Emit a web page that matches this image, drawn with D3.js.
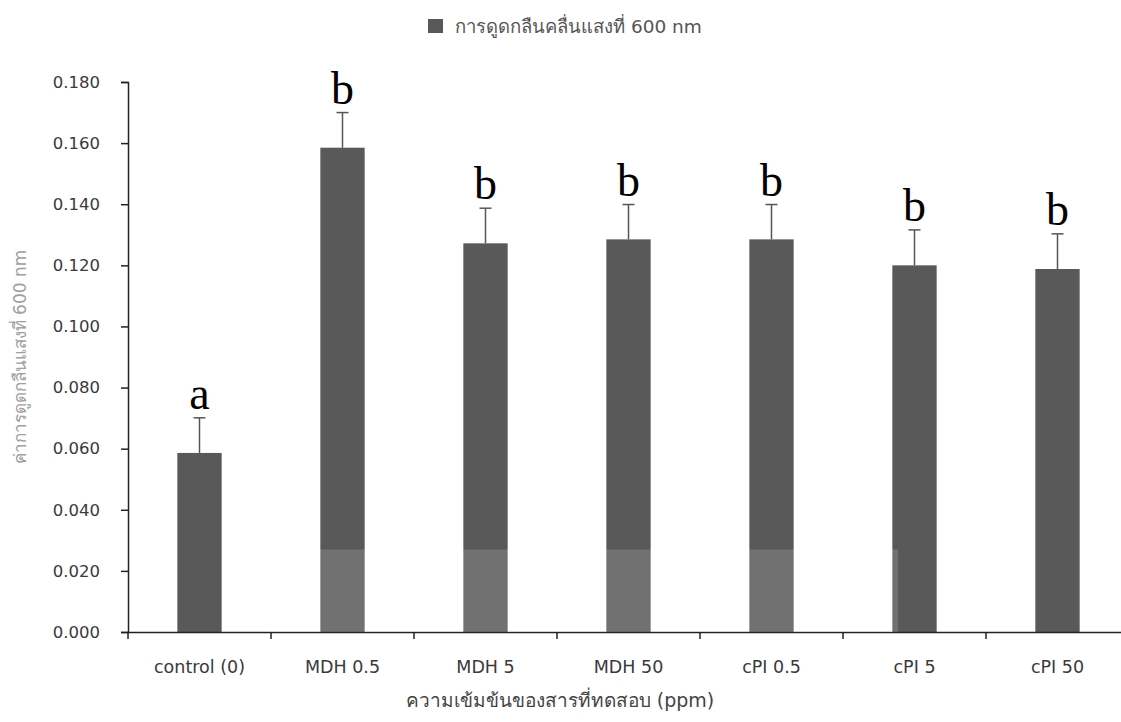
<!DOCTYPE html>
<html><head><meta charset="utf-8">
<script src="https://cdn.jsdelivr.net/npm/d3@7"></script>
<style>
body{margin:0;background:#fff;}
text{font-family:"DejaVu Sans","Noto Sans",sans-serif;}
</style></head>
<body><svg id="c" width="1121" height="722"></svg>
<script>
const categories = ["control (0)","MDH 0.5","MDH 5","MDH 50","cPI 0.5","cPI 5","cPI 50"];
const means = [0.0586,0.1585,0.1272,0.1285,0.1285,0.1200,0.1188];
const errors = [0.0115,0.0115,0.0115,0.0114,0.0114,0.0116,0.0115];
const letters = ["a","b","b","b","b","b","b"];
const yTicks = [0,0.02,0.04,0.06,0.08,0.10,0.12,0.14,0.16,0.18];
const seriesName = "การดูดกลืนคลื่นแสงที่ 600 nm";
const yTitle = "ค่าการดูดกลืนแสงที่ 600 nm";
const xTitle = "ความเข้มข้นของสารที่ทดสอบ (ppm)";

const svg = d3.select("#c");
const W = 1121, H = 722;
const m = {l:128, r:W-1129, t:82, b:H-632};
const x = d3.scaleBand().domain(categories).range([m.l, W-m.r]).paddingInner(0.69).paddingOuter(0.345);
const xb = d3.scaleBand().domain(categories).range([m.l, W-m.r]);
const y = d3.scaleLinear().domain([0,0.18]).range([H-m.b, m.t]);
const barColor = "#595959";

// bars
svg.append("g").selectAll("rect").data(categories).join("rect")
  .attr("x", d=>x(d)).attr("width", x.bandwidth())
  .attr("y", (d,i)=>y(means[i])).attr("height", (d,i)=>y(0)-y(means[i]))
  .attr("fill", barColor);

// error bars and letters
const eg = svg.append("g").attr("stroke","#555").attr("stroke-width",1.5);
categories.forEach((c,i)=>{
  const cx = x(c)+x.bandwidth()/2;
  const top = y(means[i]+errors[i]);
  eg.append("line").attr("x1",cx).attr("x2",cx).attr("y1",y(means[i])).attr("y2",top);
  eg.append("line").attr("x1",cx-6).attr("x2",cx+6).attr("y1",top).attr("y2",top);
  svg.append("text").attr("x",cx).attr("y",top-9)
    .attr("text-anchor","middle").style("font-family","'Liberation Serif','DejaVu Serif',serif")
    .style("font-size","46px").attr("fill","#000").text(letters[i]);
});

// y axis
const ya = svg.append("g").attr("transform",`translate(${m.l},0)`)
  .call(d3.axisLeft(y).tickValues(yTicks).tickFormat(d3.format(".3f")).tickSize(7).tickPadding(21));
ya.select(".domain").attr("stroke","#222").attr("stroke-width",1.5);
ya.selectAll(".tick line").attr("stroke","#222").attr("stroke-width",1.5);
ya.selectAll(".tick text").style("font-size","16.5px").attr("fill","#3a3a3a");

// x axis
const xa = svg.append("g").attr("transform",`translate(0,${y(0)})`)
  .call(d3.axisBottom(xb).tickSize(0));
xa.select(".domain").attr("stroke","#222").attr("stroke-width",1.5);
xa.selectAll(".tick text").attr("y",41).attr("dy",0).style("font-size","17.5px").attr("fill","#3a3a3a");
xa.selectAll(".tick").append("line").attr("x1",xb.bandwidth()/2).attr("x2",xb.bandwidth()/2)
  .attr("y1",0).attr("y2",7).attr("stroke","#222").attr("stroke-width",1.5);
xa.append("line").attr("x1",m.l).attr("x2",m.l).attr("y1",0).attr("y2",7).attr("stroke","#222").attr("stroke-width",1.5);
xa.append("line").attr("x1",W-m.r).attr("x2",W).attr("y1",0).attr("y2",0).attr("stroke","#222").attr("stroke-width",1.5);

// watermark overlay (light band in the reference image)
svg.append("rect").attr("x",xb("MDH 0.5")).attr("width",xb("cPI 5")+xb.bandwidth()*0.385-xb("MDH 0.5"))
  .attr("y",y(0.027)).attr("height",y(0)-y(0.027)).attr("fill","#fff").attr("opacity",0.15);

// titles
svg.append("text").attr("x",560).attr("y",707).attr("text-anchor","middle")
  .style("font-size","19px").attr("fill","#444").text(xTitle);
svg.append("text").attr("transform",`translate(26,${(m.t+H-m.b)/2}) rotate(-90)`).attr("text-anchor","middle")
  .style("font-size","17px").attr("fill","#a0a0a0").text(yTitle);

// legend
const lg = svg.append("g").attr("transform","translate(428,19)");
lg.append("rect").attr("width",15).attr("height",14).attr("fill",barColor);
lg.append("text").attr("x",27).attr("y",14).style("font-size","18.5px").attr("fill","#555").text(seriesName);
</script></body></html>
